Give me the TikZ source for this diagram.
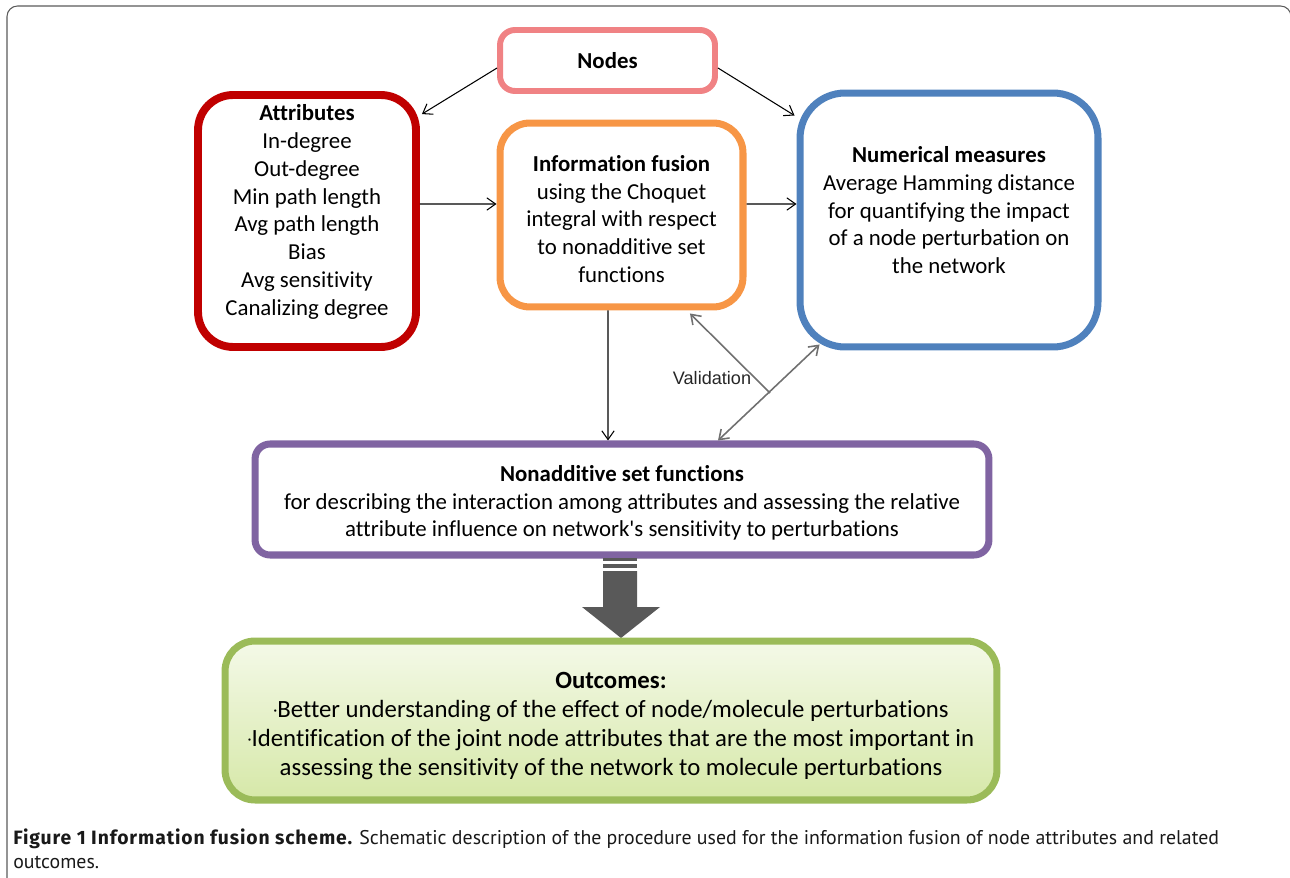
\documentclass[tikz,border=0pt]{standalone}
\usepackage{fontspec}
\setmainfont{Carlito}[Ligatures=NoCommon]
\newfontfamily\capfont{PT Sans}
\newfontfamily\capboldfont{Fira Sans}[LetterSpace=4.5]
\newfontfamily\valfont{Liberation Sans}
\usetikzlibrary{arrows.meta}
\usetikzlibrary{positioning}
\definecolor{nodepink}{RGB}{240,130,132}
\definecolor{attrred}{RGB}{192,0,0}
\definecolor{fuseorange}{RGB}{247,150,70}
\definecolor{measblue}{RGB}{79,129,189}
\definecolor{setpurple}{RGB}{128,100,162}
\definecolor{outgreen}{RGB}{155,187,89}
\definecolor{outtop}{RGB}{244,249,232}
\definecolor{outbottom}{RGB}{214,232,168}
\definecolor{valgray}{RGB}{112,112,112}
\definecolor{biggray}{RGB}{89,89,89}
\definecolor{framegray}{RGB}{90,90,90}
\newcommand{\dotmark}{{\fontsize{9}{9}\selectfont\raisebox{0.25ex}{·}}}
\tikzset{
  box/.style={draw, rounded corners=#1, line width=4pt, align=center,
    inner sep=0pt, font=\fontsize{13}{15.8}\selectfont},
  thinarrow/.style={-{Straight Barb[length=5pt,width=7pt]}, line width=0.6pt},
  valarrow/.style={valgray, line width=0.9pt}
}

\begin{document}
\begin{tikzpicture}[x=0.02cm,y=-0.02cm]
  \useasboundingbox (0,0) rectangle (1290,878);
  % frame round the figure
  \draw[framegray, line width=0.6pt, rounded corners=6pt]
    (7,890) -- (7,6) -- (1291,6) -- (1291,890);

  \node[box=0.3cm, draw=nodepink, line width=3.4pt,
    minimum width=4.3cm, minimum height=1.22cm] (nodes) at (607.5,60.5)
    {\textbf{Nodes}};
  \node[box=0.7cm, draw=attrred, line width=4.5pt,
    minimum width=4.36cm, minimum height=5.04cm] (attr) at (307,221)
    {\textbf{Attributes}\\In-degree\\Out-degree\\Min path length\\
     Avg path length\\Bias\\Avg sensitivity\\Canalizing degree\rule[-0.44cm]{0pt}{0pt}};
  \node[box=0.6cm, draw=fuseorange,
    minimum width=4.86cm, minimum height=3.68cm] (fusion) at (621.5,215)
    {\rule{0pt}{0.48cm}\textbf{Information fusion}\\using the Choquet\\integral with respect\\
     to nonadditive set\\functions};
  \node[box=0.9cm, draw=measblue,
    minimum width=5.96cm, minimum height=5.08cm] (numer) at (949,220)
    {\textbf{Numerical measures}\\Average Hamming distance\\
     for quantifying the impact\\of a node perturbation on\\the network\rule[-0.4cm]{0pt}{0pt}};
  \node[box=0.3cm, draw=setpurple,
    minimum width=14.68cm, minimum height=2.22cm] (nonadd) at (622,499.5)
    {\rule{0pt}{0.46cm}\textbf{Nonadditive set functions}\\
     for describing the interaction among attributes and assessing the relative\\
     attribute influence on network\textquotesingle s sensitivity to perturbations};

  % big arrow down to the outcomes
  \fill[biggray] (603,558) rectangle (637,561);
  \fill[biggray] (603,564) rectangle (637,568);
  \fill[biggray] (603,571) -- (637,571) -- (637,607) -- (660,607)
    -- (621,638) -- (582,607) -- (603,607) -- cycle;

  \node[box=0.6cm, draw=outgreen, top color=outtop, bottom color=outbottom,
    font=\fontsize{14.1}{16.5}\selectfont,
    minimum width=15.44cm, minimum height=3.18cm] (outc) at (611,720.5)
    {\rule{0pt}{0.56cm}\textbf{Outcomes:}\\
     \dotmark Better understanding of the effect of node/molecule perturbations\\
     \dotmark Identification of the joint node attributes that are the most important in\\
     assessing the sensitivity of the network to molecule perturbations};

  \draw[thinarrow] ([yshift=-0.15cm]nodes.west)
    -- ([xshift=0.04cm,yshift=-0.46cm]attr.north east);
  \draw[thinarrow] ([yshift=-0.15cm]nodes.east)
    -- ([xshift=-0.04cm,yshift=-0.52cm]numer.north west);
  \draw[thinarrow] ([yshift=0.34cm]attr.east) -- ([yshift=0.22cm]fusion.west);
  \draw[thinarrow] ([yshift=0.22cm]fusion.east) -- ([yshift=0.32cm]numer.west);
  \draw[thinarrow] ([xshift=-0.27cm]fusion.south) -- ([xshift=-0.28cm]nonadd.north);

  % validation arrows
  \coordinate (val) at (770,393);
  \draw[valarrow, {Straight Barb[length=5pt,width=7pt]}-{Straight Barb[length=5pt,width=7pt]}]
    ([xshift=0.46cm,yshift=0.12cm]numer.south west) -- ([xshift=1.92cm]nonadd.north);
  \draw[valarrow, -{Straight Barb[length=5pt,width=7pt]}]
    (val) -- ([xshift=1.37cm,yshift=-0.06cm]fusion.south);
  \node[font=\valfont\fontsize{10.3}{12}\selectfont, text=black!85] (vallabel)
    at (712,378) {Validation};

  \node[anchor=base west, align=left, inner sep=0pt,
    font=\capfont\fontsize{11.3}{13.6}\selectfont, text=black!90] (caption) at (13,868)
    {{\capboldfont\bfseries\fontsize{11}{13.6}\selectfont Figure 1 Information fusion scheme.}
     Schematic description of the procedure
     used for the information fusion of node attributes and related\\outcomes.};
\end{tikzpicture}
\end{document}
